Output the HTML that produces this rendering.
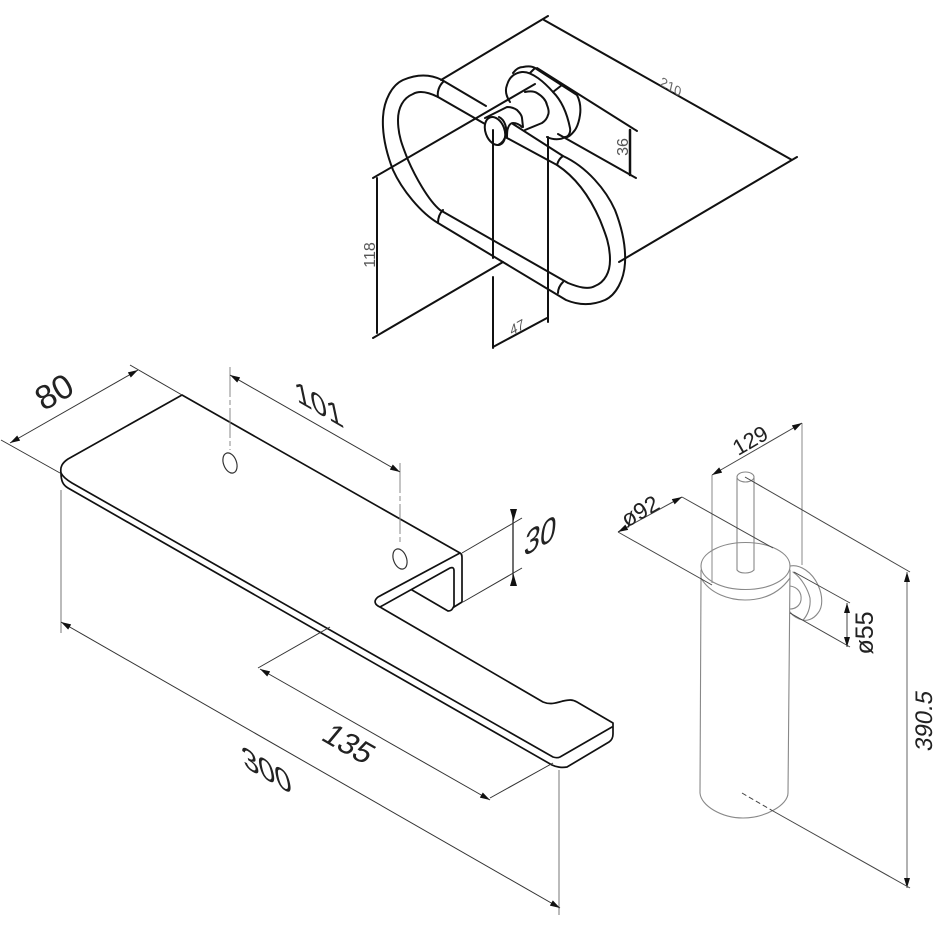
<!DOCTYPE html>
<html><head><meta charset="utf-8"><style>
html,body{margin:0;padding:0;background:#fff}
svg{display:block}
text{font-family:"Liberation Sans",sans-serif;fill:#222}
</style></head><body>
<svg width="935" height="935" viewBox="0 0 935 935" xmlns="http://www.w3.org/2000/svg">
<defs>
<marker id="a" viewBox="0 0 10 6" refX="0" refY="3" markerWidth="12" markerHeight="6" markerUnits="userSpaceOnUse" orient="auto"><path d="M0 3L10 0V6Z" fill="#111"/></marker>
<marker id="b" viewBox="0 0 10 6" refX="10" refY="3" markerWidth="12" markerHeight="6" markerUnits="userSpaceOnUse" orient="auto"><path d="M10 3L0 0V6Z" fill="#111"/></marker>
</defs>

<!-- towel ring -->
<g fill="none" stroke="#111" stroke-width="2" stroke-linecap="round" stroke-linejoin="round">
<path d="M486 106L442 80C430 74 417 74 403 80C392 85 384 100 383 117C382 135 386 152 393 170C402 190 421 213 438 223L566 300C578 305 591 306 605 300C616 295 624 280 625 263C626 245 622 228 615 210C606 190 587 167 563 156L513 124"/>
<path d="M485 124L438 97C430 93 420 90 413 94C403 98 398 108 398 120C398 135 402 145 408 160C415 176 428 200 440 210L568 283C578 287 588 290 595 286C605 282 610 272 610 260C610 245 606 235 600 220C593 204 580 180 557 165L507 138"/>
<path d="M443 82C439 86 437 92 438 97M443 210C440 213 438 218 438 223M563 156C560 158 558 161 557 165M563 282C560 285 558 289 558 293"/>
<path d="M510 102C506 96 505 90 507 85C509 78 514 73 522 72C532 71 545 83 553 92C561 100 567 113 570 128C571 133 568 137 565 137C561 140 553 140 547 137"/>
<path d="M513 73C516 69 519 67 523 67C528 66 532 66 535 68L577 95C580 101 581 108 580 115C579 122 577 127 575 130C572 134 568 138 565 137"/>
<path d="M535 68L530 73M562 85L553 92"/>
<path d="M525 92C530 91 534 91 537 93C542 96 546 100 547 105C549 110 549 113 548 115C547 119 545 121 542 123L525 130"/>
<path d="M485 118L507 107C511 107 514 108 517 110C520 113 522 116 522 118L523 127"/>
<ellipse cx="495" cy="131" rx="9.500" ry="14.500" transform="rotate(-20 495 131)" fill="#fff"/>
<path d="M499 117C505 120 507 128 506 134C505 139 503 143 498 145"/>
<path d="M507 138C507 133 507 130 508 128C509 125 511 123 513 123C517 123 520 125 522 127"/>
<path d="M373 178L535 84"/>
<path d="M441 80L548 16M544 20L792 160M619 262L797 157"/>
<path d="M537 68L637 131M558 134L636 178"/>
<path d="M630 130V175" stroke-width="2.500"/>
<path d="M373 338L503 262M377 178V333"/>
<path d="M493 130V258M493 277V348M548 137V322M493 347L547 318"/>
</g>
<text transform="matrix(.866 .5 -.2 .9 670 91)" text-anchor="middle" font-size="14" style="fill:#666">210</text>
<text transform="translate(628 147) rotate(-90)" text-anchor="middle" font-size="16" style="fill:#555">36</text>
<text transform="translate(375 255) rotate(-90)" text-anchor="middle" font-size="16" style="fill:#555">118</text>
<text transform="matrix(.866 -.5 .2 1 518 332)" text-anchor="middle" font-size="14" style="fill:#555">47</text>

<!-- shelf -->
<g fill="none" stroke="#111" stroke-width="1.700" stroke-linecap="round" stroke-linejoin="round">
<path d="M182 395L68 459C62 463 60 467 61 473C61 481 63 485 68 488L552 765C556 767 562 768 567 767L609 742C612 740 613 737 613 734V723L577 702C572 699 568 700 563 701C556 703 550 705 543 702L380 607C375 605 373 601 378 597L460 553L182 395"/>
<path d="M61 473C63 477 67 480 72 483L553 757C556 758 558 758 560 757L612 727"/>
<path d="M380 607L450 568C453 567 454 568 454 571V606C452 610 451 611 448 611L412 590"/>
<path d="M460 553C462 554 462 556 462 558V602L454 607"/>
</g>
<ellipse cx="230" cy="463" rx="6.500" ry="10.500" transform="rotate(-20 230 463)" fill="none" stroke="#333" stroke-width="1.200"/>
<ellipse cx="400" cy="559" rx="6.500" ry="10.500" transform="rotate(-20 400 559)" fill="none" stroke="#333" stroke-width="1.200"/>
<g fill="none" stroke="#333" stroke-width="1">
<path d="M1 440L60 473M130 365L182 395"/>
<path d="M10 443L138 370" marker-start="url(#a)" marker-end="url(#b)"/>
<path d="M230 367V450M400 463V545" stroke="#888" stroke-dasharray="30 3 5 3"/>
<path d="M230 375L400 472" marker-start="url(#a)" marker-end="url(#b)"/>
<path d="M462 553L522 518M463 602L522 568"/>
<path d="M513 510V585" stroke-width="1.400"/>
<path d="M258 668L330 627M490 798L553 763"/>
<path d="M260 669L490 800" marker-start="url(#a)" marker-end="url(#b)"/>
<path d="M61 490V633M559 770V915" stroke="#777"/>
<path d="M61 622L560 908" marker-start="url(#a)" marker-end="url(#b)"/>
</g>
<path d="M510 509L517 509L513.500 521ZM510 586L517 586L513.500 574Z" fill="#111"/>
<text transform="translate(60 402) rotate(-30)" text-anchor="middle" font-size="34">80</text>
<text transform="matrix(.866 .5 .2 .95 321 415)" text-anchor="middle" font-size="33">101</text>
<text transform="matrix(.866 -.5 -.12 1.100 539 548)" text-anchor="middle" font-size="33">30</text>
<text transform="translate(342 752) rotate(30) skewX(-10)" text-anchor="middle" font-size="31">135</text>
<text transform="matrix(.866 .5 .2 .95 269 781)" text-anchor="middle" font-size="34">300</text>

<!-- brush -->
<g fill="none" stroke="#888" stroke-width="1.100" stroke-linecap="round" stroke-linejoin="round">
<path d="M737 478V570M754 478V570"/>
<ellipse cx="745.500" cy="477" rx="8.500" ry="5"/>
<path d="M737 570C740 574 750 574 754 570"/>
<ellipse cx="745.500" cy="566" rx="44.500" ry="23.500"/>
<path d="M701 578C710 594 730 600 745 600C765 600 780 592 790 578"/>
<path d="M701 570V580L700 793C701 806 722 818 743 818C765 818 788 805 788 793L790 570"/>
<path d="M790 566C800 564 812 572 818 585C823 596 823 607 818 613C813 620 806 621 803 620C798 619 793 616 790 612"/>
<path d="M793 572C802 578 808 590 810 598C811 608 807 616 803 620"/>
<path d="M790 586C797 587 802 592 801 600C800 606 795 609 790 609"/>
</g>
<g fill="none" stroke="#444" stroke-width="1">
<path d="M712 475V583M802 423V565" stroke="#888"/>
<path d="M712 475L802 423" marker-start="url(#a)" marker-end="url(#b)"/>
<path d="M618 532L712 585M682 497L773 548"/>
<path d="M618 532L682 497" marker-start="url(#a)" marker-end="url(#b)"/>
<path d="M745 477L910 572"/>
<path d="M794 572L850 603M790 613L850 647"/>
<path d="M847 603V647" marker-start="url(#a)" marker-end="url(#b)"/>
<path d="M907 572V888" stroke="#666" marker-start="url(#a)" marker-end="url(#b)"/>
<path d="M742 793L773 811" stroke-dasharray="5 3"/>
<path d="M773 811L910 888"/>
</g>
<text transform="translate(754 447) rotate(-30)" text-anchor="middle" font-size="22">129</text>
<text transform="translate(644 518) rotate(-30)" text-anchor="middle" font-size="23">ø92</text>
<text transform="translate(873 633) rotate(-90)" text-anchor="middle" font-size="25">ø55</text>
<text transform="translate(932 722) rotate(-90) skewX(-10)" text-anchor="middle" font-size="24">390.5</text>
</svg>
</body></html>
